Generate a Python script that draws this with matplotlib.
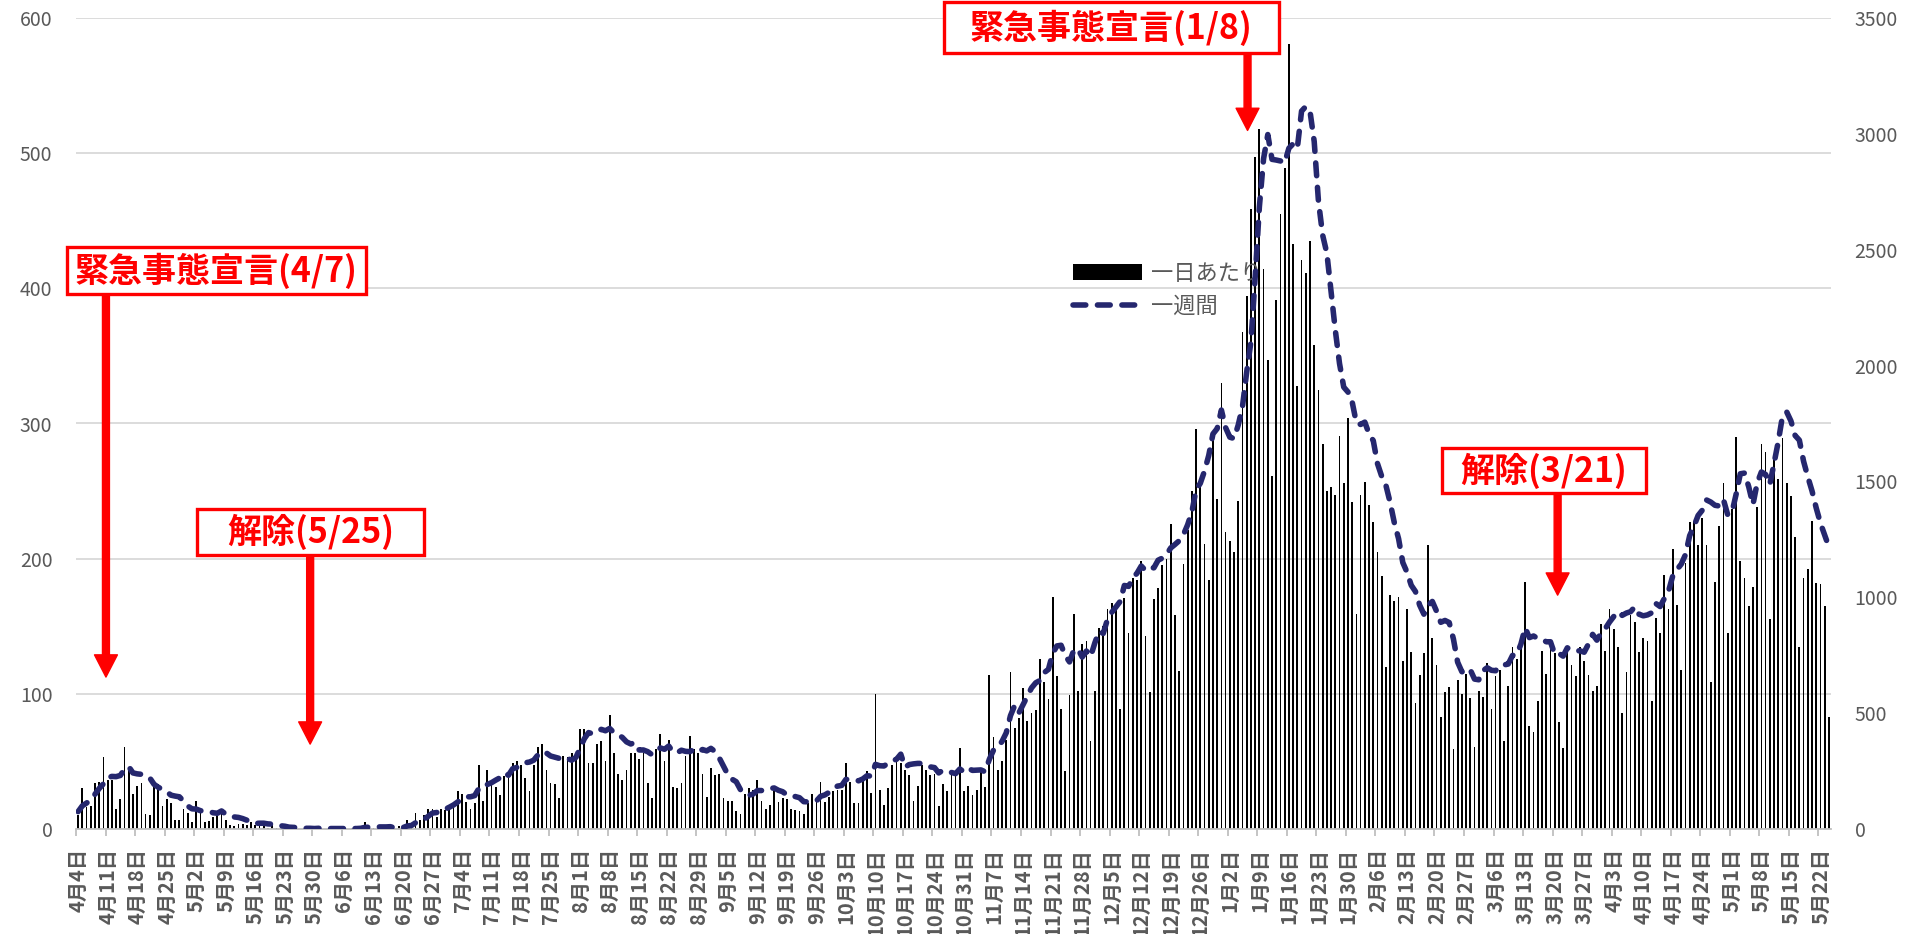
import matplotlib
matplotlib.use('Agg')
import matplotlib.pyplot as plt
from matplotlib.patches import Rectangle, Patch
from matplotlib.lines import Line2D

plt.rcParams['font.family'] = ['Noto Sans CJK JP', 'DejaVu Sans']

# 一日あたりの人数 (2020/4/4 - 2021/5/24), 1行 = 1週間
daily = [
    10, 30, 16, 17, 34, 35, 53,
    36, 36, 15, 22, 61, 46, 26,
    32, 34, 11, 10, 34, 33, 17,
    22, 19, 7, 7, 15, 12, 5,
    21, 12, 5, 6, 9, 10, 15,
    7, 3, 2, 4, 4, 3, 5,
    3, 4, 2, 1, 3, 1, 0,
    1, 0, 1, 0, 0, 1, 0,
    0, 1, 0, 0, 0, 1, 0,
    0, 0, 1, 0, 1, 5, 1,
    1, 0, 1, 0, 2, 0, 2,
    1, 7, 3, 12, 7, 10, 15,
    15, 9, 15, 14, 16, 20, 28,
    26, 20, 15, 19, 47, 21, 44,
    34, 31, 25, 39, 38, 49, 50,
    47, 38, 28, 47, 61, 63, 44,
    34, 33, 23, 54, 53, 56, 56,
    74, 74, 49, 49, 63, 65, 50,
    84, 56, 41, 36, 44, 56, 56,
    52, 56, 34, 23, 59, 70, 50,
    66, 31, 30, 34, 54, 69, 59,
    56, 41, 24, 45, 40, 41, 23,
    21, 21, 13, 11, 26, 30, 29,
    36, 21, 15, 18, 28, 20, 23,
    22, 15, 14, 13, 11, 19, 26,
    23, 35, 20, 24, 28, 29, 29,
    49, 35, 19, 19, 36, 43, 27,
    100, 29, 18, 30, 47, 50, 49,
    44, 40, 21, 32, 47, 44, 40,
    41, 17, 33, 28, 41, 39, 60,
    28, 32, 25, 29, 42, 31, 114,
    68, 44, 50, 66, 116, 75, 82,
    104, 80, 86, 88, 126, 109, 96,
    172, 113, 89, 43, 99, 159, 102,
    137, 139, 65, 102, 149, 150, 163,
    167, 162, 89, 171, 145, 186, 184,
    198, 143, 101, 170, 178, 195, 200,
    226, 158, 117, 196, 221, 250, 296,
    254, 211, 184, 289, 244, 330, 220,
    213, 205, 243, 368, 394, 459, 497,
    518, 414, 347, 261, 391, 455, 489,
    581, 433, 328, 421, 411, 435, 358,
    325, 285, 250, 253, 247, 291, 256,
    304, 242, 159, 247, 257, 240, 227,
    205, 187, 120, 173, 169, 172, 124,
    163, 131, 93, 114, 130, 210, 141,
    121, 83, 101, 105, 59, 110, 100,
    115, 97, 61, 102, 98, 123, 89,
    113, 118, 65, 106, 135, 126, 135,
    183, 76, 72, 95, 132, 115, 135,
    130, 79, 60, 131, 121, 113, 135,
    124, 114, 102, 106, 152, 132, 163,
    148, 135, 86, 116, 158, 153, 131,
    141, 139, 95, 156, 145, 188, 163,
    207, 166, 118, 197, 227, 228, 210,
    230, 210, 109, 183, 224, 256, 145,
    237, 290, 198, 186, 165, 179, 238,
    285, 279, 155, 277, 259, 289, 256,
    246, 216, 135, 186, 192, 228, 182,
    181, 165, 83,
]

# 一週間の合計 (右軸)
weekly = [
    75, 100, 112, 125, 150, 175, 195,
    221, 227, 226, 231, 258, 269, 242,
    238, 236, 232, 220, 193, 180, 171,
    161, 146, 142, 139, 120, 99, 87,
    86, 79, 77, 76, 70, 68, 78,
    64, 55, 52, 50, 45, 38, 28,
    24, 25, 25, 22, 21, 19, 14,
    12, 8, 7, 6, 3, 3, 3,
    2, 3, 2, 2, 2, 2, 2,
    2, 1, 2, 2, 3, 7, 8,
    9, 9, 9, 9, 10, 5, 6,
    6, 13, 15, 27, 32, 42, 55,
    69, 71, 83, 85, 94, 104, 117,
    128, 139, 139, 144, 175, 176, 192,
    200, 211, 221, 241, 232, 260, 266,
    279, 286, 289, 297, 320, 334, 328,
    315, 310, 305, 312, 304, 297, 309,
    349, 390, 416, 411, 421, 430, 424,
    434, 416, 408, 395, 376, 367, 373,
    341, 341, 334, 321, 336, 350, 344,
    358, 333, 329, 340, 335, 334, 343,
    333, 343, 337, 348, 334, 306, 270,
    235, 215, 204, 170, 156, 145, 151,
    166, 166, 168, 175, 177, 167, 161,
    147, 141, 140, 135, 118, 117, 120,
    121, 141, 147, 158, 175, 185, 188,
    214, 214, 213, 208, 216, 230, 228,
    279, 273, 272, 283, 294, 301, 323,
    267, 278, 281, 283, 283, 277, 268,
    265, 242, 254, 250, 244, 239, 259,
    246, 261, 253, 254, 255, 247, 301,
    341, 353, 378, 415, 489, 533, 501,
    537, 573, 609, 631, 641, 675, 689,
    757, 790, 793, 748, 721, 771, 777,
    742, 768, 744, 803, 853, 844, 905,
    935, 958, 982, 1051, 1047, 1083, 1104,
    1135, 1116, 1128, 1127, 1160, 1169, 1185,
    1213, 1228, 1244, 1270, 1313, 1368, 1464,
    1492, 1545, 1612, 1705, 1728, 1808, 1732,
    1691, 1685, 1744, 1823, 1973, 2102, 2379,
    2684, 2893, 2997, 2890, 2887, 2883, 2875,
    2938, 2957, 2938, 3098, 3118, 3098, 2967,
    2711, 2563, 2485, 2317, 2153, 2009, 1907,
    1886, 1843, 1752, 1746, 1756, 1705, 1676,
    1577, 1522, 1483, 1409, 1321, 1253, 1150,
    1108, 1052, 1025, 966, 927, 965, 982,
    940, 892, 900, 891, 820, 720, 679,
    673, 687, 647, 644, 683, 696, 685,
    683, 704, 708, 712, 749, 752, 798,
    868, 826, 833, 822, 819, 808, 808,
    755, 758, 746, 782, 771, 769, 769,
    763, 798, 840, 815, 846, 865, 893,
    917, 938, 922, 932, 938, 959, 927,
    920, 924, 933, 973, 960, 995, 1027,
    1093, 1120, 1143, 1184, 1266, 1306, 1353,
    1376, 1420, 1411, 1397, 1394, 1422, 1357,
    1364, 1444, 1533, 1536, 1477, 1400, 1493,
    1541, 1530, 1487, 1578, 1672, 1782, 1800,
    1761, 1698, 1678, 1587, 1520, 1459, 1385,
    1320, 1269, 1217,
]

# 週ごとの目盛りラベル
tick_labels = [
    '4月4日', '4月11日', '4月18日', '4月25日', '5月2日', '5月9日', '5月16日',
    '5月23日', '5月30日', '6月6日', '6月13日', '6月20日', '6月27日', '7月4日',
    '7月11日', '7月18日', '7月25日', '8月1日', '8月8日', '8月15日', '8月22日',
    '8月29日', '9月5日', '9月12日', '9月19日', '9月26日', '10月3日', '10月10日',
    '10月17日', '10月24日', '10月31日', '11月7日', '11月14日', '11月21日',
    '11月28日', '12月5日', '12月12日', '12月19日', '12月26日', '1月2日', '1月9日',
    '1月16日', '1月23日', '1月30日', '2月6日', '2月13日', '2月20日', '2月27日',
    '3月6日', '3月13日', '3月20日', '3月27日', '4月3日', '4月10日', '4月17日',
    '4月24日', '5月1日', '5月8日', '5月15日', '5月22日',
]

navy = '#25276E'
gray = '#595959'

fig = plt.figure(figsize=(19.09, 9.34), dpi=100)
ax = fig.add_axes([76 / 1909, 1 - 829 / 934, (1831 - 76) / 1909, (829 - 18) / 934])
ax2 = ax.twinx()

x = list(range(len(daily)))

# 棒グラフ (左軸)
ax.bar(x, daily, width=0.42, color='black', zorder=2)
ax.set_xlim(-0.5, len(daily) - 0.5)
ax.set_ylim(0, 600)
ax.set_yticks(range(0, 601, 100))
ax.yaxis.grid(True, color='#d9d9d9', lw=1.3)
ax.set_axisbelow(True)

# 折れ線 (右軸)
ax2.plot(x, weekly, color=navy, lw=4, ls=(0, (2.3, 2.1)),
         dash_capstyle='round', zorder=3)
ax2.set_ylim(0, 3500)
ax2.set_yticks(range(0, 3501, 500))

# 軸の体裁
for a in (ax, ax2):
    for s in ('left', 'right', 'top'):
        a.spines[s].set_visible(False)
    a.tick_params(axis='y', length=0, labelcolor=gray, labelsize=14, pad=17)
ax2.spines['bottom'].set_visible(False)
ax.spines['bottom'].set_color('#bfbfbf')
ax.spines['bottom'].set_linewidth(1.3)

ax.set_xticks(range(0, len(daily), 7))
ax.set_xticklabels(tick_labels, rotation=90, fontsize=14.5, fontweight='bold', color=gray)
ax.set_xticks([i - 0.5 for i in range(0, len(daily), 7)], minor=True)
ax.tick_params(axis='x', which='major', length=0, pad=14)
ax.tick_params(axis='x', which='minor', length=5, width=1.3, color='#bfbfbf')

# 凡例
handles = [Patch(facecolor='black'),
           Line2D([], [], color=navy, lw=4, ls=(0, (2.3, 2.1)), dash_capstyle='round')]
leg = ax2.legend(handles, ['一日あたり', '一週間'], loc='upper left',
                 bbox_to_anchor=(1073 / 1909, 1 - 262 / 934), bbox_transform=fig.transFigure,
                 frameon=False, fontsize=16, labelcolor=gray, handlelength=3.1,
                 handletextpad=0.4, labelspacing=0.45, borderpad=0, borderaxespad=0)
leg.set_zorder(1)

# 注記 (赤枠と矢印)
notes = [
    ('緊急事態宣言(4/7)', (-2.6, 395.6, 68.2, 430.3), (6.6, 395.6, 112.4)),
    ('解除(5/25)', (28.2, 202.6, 82.0, 236.6), (55.0, 202.6, 62.8)),
    ('緊急事態宣言(1/8)', (205.2, 573.8, 284.6, 611.5), (277.2, 573.8, 516.8)),
    ('解除(3/21)', (323.4, 248.4, 371.6, 281.7), (350.7, 248.4, 173.0)),
]
for text, (x0, y0, x1, y1), (ax_x, ay0, ay1) in notes:
    ax2.annotate('', xy=(ax_x, ay1), xytext=(ax_x, ay0),
                 xycoords=ax.transData, textcoords=ax.transData,
                 arrowprops=dict(width=5, headwidth=16.5, headlength=16,
                                 color='#ff0000', shrink=0), zorder=5)
    ax2.add_patch(Rectangle((x0, y0), x1 - x0, y1 - y0, transform=ax.transData,
                            facecolor='white', edgecolor='#ff0000', lw=2.4,
                            clip_on=False, zorder=6))
    ax2.text((x0 + x1) / 2, (y0 + y1) / 2, text, transform=ax.transData,
             ha='center', va='center', color='#ff0000', fontsize=24.5,
             fontweight='bold', zorder=7, clip_on=False)

fig.savefig('out.png', dpi=100)
